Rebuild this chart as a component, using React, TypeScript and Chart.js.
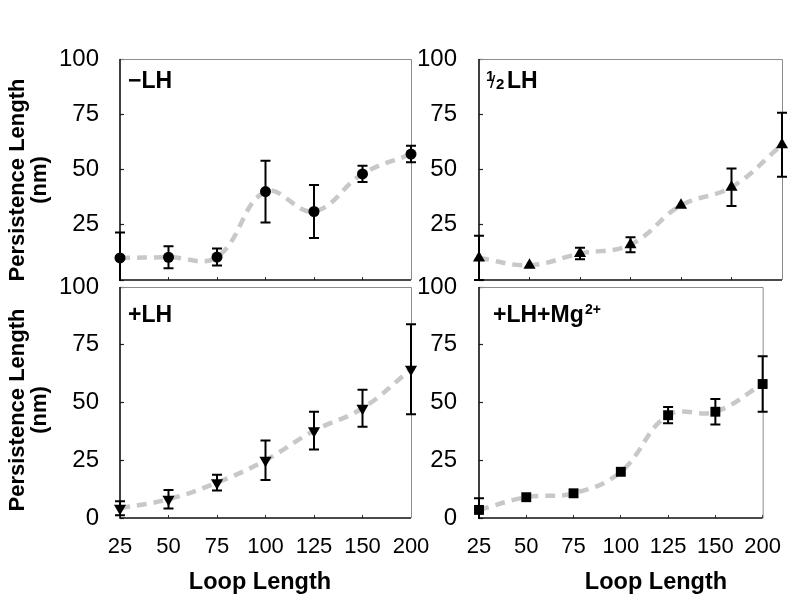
import React, { useEffect, useRef } from 'react';
import { Chart, registerables } from 'chart.js';

Chart.register(...registerables);

// ---------- data ----------
const loopLengths = ['25', '50', '75', '100', '125', '150', '200'];
const yTickValues = [0, 25, 50, 75, 100];

const minusLH = [10, 10.3, 10.4, 40, 31, 48, 57];
const minusLHErr = [11.5, 5, 3.8, 14, 12, 3.7, 3.7];

const halfLH = [10, 6.7, 12, 16, 33.8, 42, 61.2];
const halfLHErr = [10, 0, 2.6, 3.4, 0, 8.5, 14.5];

const plusLH = [4.2, 8.1, 15.3, 25, 37.8, 47.5, 64.4];
const plusLHErr = [3, 4, 3.4, 8.5, 8.2, 8, 19.5];

const plusLHMg = [3.5, 9, 10.7, 20, 44.5, 46, 58];
const plusLHMgErr = [5, 0, 0, 0, 3.5, 5.5, 12];

const yTitleLines = ['Persistence Length', '(nm)'];
const xTitle = 'Loop Length';

const FAMILY = '"Liberation Sans", Arial, Helvetica, sans-serif';
const W = 800;
const H = 597;

type Area = { left: number; right: number; top: number; bottom: number };
type Part = { text: string; x: number; y: number; size: number; weight?: string };

type PanelSpec = {
  area: Area;
  values: number[];
  errors: number[];
  pointStyle: string;
  rotation: number;
  radius: number;
  showXTicks: boolean;
  hideZero: boolean;
  yTickPad: number;
  label: Part[];
  yTitleCY?: number;
  xTitleCX?: number;
};

const panelPlugin = {
  id: 'panelDecor',
  beforeDatasetsDraw(chart: any) {
    const { ctx, chartArea: a } = chart;
    ctx.save();
    ctx.strokeStyle = '#8c8c8c';
    ctx.lineWidth = 1;
    ctx.beginPath();
    ctx.moveTo(a.left, a.top + 0.5);
    ctx.lineTo(a.right + 0.5, a.top + 0.5);
    ctx.lineTo(a.right + 0.5, a.bottom);
    ctx.stroke();
    ctx.strokeStyle = '#111';
    ctx.lineWidth = 1.6;
    ctx.beginPath();
    ctx.moveTo(a.left, a.top);
    ctx.lineTo(a.left, a.bottom);
    ctx.lineTo(a.right, a.bottom);
    ctx.stroke();
    ctx.restore();
  },
  afterDatasetsDraw(chart: any) {
    const { ctx, chartArea: a } = chart;
    const xs = chart.scales.x;
    const ys = chart.scales.y;
    chart.data.datasets.forEach((ds: any) => {
      const errs: number[] = ds.errors;
      if (!errs) return;
      ctx.save();
      ctx.beginPath();
      ctx.rect(0, a.top - 1, chart.width, a.bottom - a.top + 2);
      ctx.clip();
      ctx.strokeStyle = '#000';
      ctx.lineWidth = 2;
      ds.data.forEach((v: number, i: number) => {
        const e = errs[i];
        if (!e) return;
        const x = xs.getPixelForValue(i);
        const y1 = ys.getPixelForValue(v + e);
        const y2 = ys.getPixelForValue(v - e);
        ctx.beginPath();
        ctx.moveTo(x, y1);
        ctx.lineTo(x, y2);
        ctx.moveTo(x - 5, y1);
        ctx.lineTo(x + 5, y1);
        ctx.moveTo(x - 5, y2);
        ctx.lineTo(x + 5, y2);
        ctx.stroke();
      });
      ctx.restore();
    });
  },
  afterDraw(chart: any, _args: any, opts: any) {
    const { ctx } = chart;
    ctx.save();
    ctx.fillStyle = '#000';
    ctx.textBaseline = 'alphabetic';
    ctx.textAlign = 'left';
    (opts.label || []).forEach((p: Part) => {
      ctx.font = `${p.weight || 'bold'} ${p.size}px ${FAMILY}`;
      ctx.fillText(p.text, p.x, p.y);
    });
    if (opts.yTitleCY !== undefined) {
      ctx.font = `bold 22px ${FAMILY}`;
      ctx.textAlign = 'center';
      const xs = [24, 46];
      yTitleLines.forEach((t, i) => {
        ctx.save();
        ctx.translate(xs[i], opts.yTitleCY);
        ctx.rotate(-Math.PI / 2);
        ctx.fillText(t, 0, 0);
        ctx.restore();
      });
    }
    if (opts.xTitleCX !== undefined) {
      ctx.font = `bold 23.5px ${FAMILY}`;
      ctx.textAlign = 'center';
      ctx.fillText(xTitle, opts.xTitleCX, 589);
    }
    ctx.restore();
  },
};

function Panel({ spec }: { spec: PanelSpec }) {
  const ref = useRef<HTMLCanvasElement | null>(null);
  useEffect(() => {
    if (!ref.current) return;
    const a = spec.area;
    const chart = new Chart(ref.current, {
      type: 'line',
      data: {
        labels: loopLengths,
        datasets: [
          {
            data: spec.values,
            errors: spec.errors,
            borderColor: '#c8c8c8',
            borderWidth: 4.5,
            borderDash: [10, 7],
            borderCapStyle: 'butt',
            tension: 0.4,
            fill: false,
            clip: false,
            pointStyle: spec.pointStyle,
            pointRotation: spec.rotation,
            pointRadius: spec.radius,
            pointHoverRadius: spec.radius,
            pointBackgroundColor: '#000',
            pointBorderColor: '#000',
            pointBorderWidth: 0,
          } as any,
        ],
      },
      options: {
        animation: false,
        responsive: false,
        events: [],
        layout: {
          padding: {
            left: a.left - 60,
            right: W - a.right,
            top: a.top,
            bottom: H - a.bottom - 60,
          },
        },
        plugins: {
          legend: { display: false },
          tooltip: { enabled: false },
          panelDecor: {
            label: spec.label,
            yTitleCY: spec.yTitleCY,
            xTitleCX: spec.xTitleCX,
          },
        } as any,
        scales: {
          x: {
            type: 'category',
            offset: false,
            grid: {
              display: true,
              drawOnChartArea: false,
              drawTicks: true,
              tickLength: -3,
              tickColor: '#333',
              tickWidth: 1,
            },
            border: { display: false },
            ticks: {
              display: spec.showXTicks,
              autoSkip: false,
              maxRotation: 0,
              padding: 19,
              color: '#000',
              font: { size: 22, family: FAMILY },
            },
            afterFit: (s: any) => {
              s.height = 60;
            },
          },
          y: {
            type: 'linear',
            min: 0,
            max: 100,
            afterBuildTicks: (s: any) => {
              s.ticks = yTickValues.map((v) => ({ value: v }));
            },
            grid: {
              display: true,
              drawOnChartArea: false,
              drawTicks: true,
              tickLength: -4,
              tickColor: '#222',
              tickWidth: 1.2,
            },
            border: { display: false },
            ticks: {
              padding: spec.yTickPad,
              color: '#000',
              font: { size: 24, family: FAMILY },
              callback: (v: any) => (spec.hideZero && Number(v) === 0 ? '' : String(v)),
            },
            afterFit: (s: any) => {
              s.width = 60;
            },
          },
        } as any,
      },
      plugins: [panelPlugin as any],
    });
    return () => chart.destroy();
  }, [spec]);
  return (
    <canvas
      ref={ref}
      width={W}
      height={H}
      style={{ position: 'absolute', left: 0, top: 0, width: W, height: H }}
    />
  );
}

const panels: PanelSpec[] = [
  {
    area: { left: 120, right: 411, top: 59, bottom: 280 },
    values: minusLH,
    errors: minusLHErr,
    pointStyle: 'circle',
    rotation: 0,
    radius: 5.5,
    showXTicks: false,
    hideZero: true,
    yTickPad: 25,
    label: [{ text: '\u2212LH', x: 128, y: 88, size: 23 }],
    yTitleCY: 180,
  },
  {
    area: { left: 479, right: 782, top: 59, bottom: 280 },
    values: halfLH,
    errors: halfLHErr,
    pointStyle: 'triangle',
    rotation: 0,
    radius: 7,
    showXTicks: false,
    hideZero: true,
    yTickPad: 26,
    label: [
      { text: '1', x: 486, y: 81, size: 15 },
      { text: '/', x: 490, y: 88, size: 19, weight: 'normal' },
      { text: '2', x: 496, y: 88.5, size: 15 },
      { text: 'LH', x: 507, y: 88, size: 23 },
    ],
  },
  {
    area: { left: 120, right: 411, top: 287, bottom: 518 },
    values: plusLH,
    errors: plusLHErr,
    pointStyle: 'triangle',
    rotation: 180,
    radius: 7,
    showXTicks: true,
    hideZero: false,
    yTickPad: 25,
    label: [{ text: '+LH', x: 128, y: 322, size: 23 }],
    yTitleCY: 410,
    xTitleCX: 260,
  },
  {
    area: { left: 479, right: 781, top: 287, bottom: 518 },
    values: plusLHMg,
    errors: plusLHMgErr,
    pointStyle: 'rect',
    rotation: 0,
    radius: 7,
    showXTicks: true,
    hideZero: false,
    yTickPad: 26,
    label: [
      { text: '+LH+Mg', x: 493, y: 322, size: 23 },
      { text: '2+', x: 585, y: 314, size: 14 },
    ],
    xTitleCX: 656,
  },
];

export default function App() {
  return (
    <div
      style={{
        position: 'absolute',
        left: 0,
        top: 0,
        width: W,
        height: H,
        background: '#fff',
        overflow: 'hidden',
      }}
    >
      {panels.map((p, i) => (
        <Panel key={i} spec={p} />
      ))}
    </div>
  );
}
